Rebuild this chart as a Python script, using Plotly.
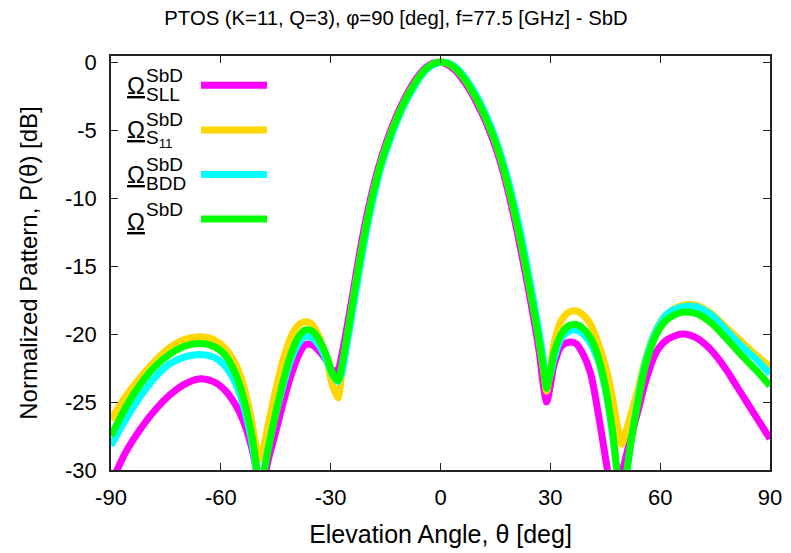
import plotly.graph_objects as go

# elevation angle grid (deg) shared by all four patterns
theta_deg = [-90, -86, -82, -78, -74, -70, -66, -62, -59, -56, -54, -52, -50.5, -49.5, -48.5, -47, -45, -43,
             -41, -39, -37, -35, -33, -31, -29.5, -28, -27, -26, -24, -22, -20, -18, -16, -14, -12, -10,
             -8, -6, -4, -2, 0, 2, 4, 6, 8, 10, 12, 14, 16, 18, 20, 22, 24, 26,
             27, 28, 29, 30, 31, 33, 35, 37, 39, 41, 43, 45, 46.5, 47.5, 48.5, 49.5, 50.5, 52,
             54, 56, 59, 62, 66, 70, 74, 78, 82, 86, 90]

# normalized pattern (dB)
p_sll = [-31.0, -28.7, -27.0, -25.6, -24.5, -23.7, -23.3, -23.5, -24.1, -25.2, -26.3, -27.9, -29.7, -31.6, -31.0, -29.2, -27.2, -25.1,
         -23.2, -21.7, -20.8, -20.8, -21.3, -22.0, -22.7, -22.6, -21.6, -20.2, -17.1, -13.9, -11.1, -8.8, -6.9, -5.3, -3.95, -2.8,
         -1.8, -1.0, -0.4, -0.07, -0.02, -0.2, -0.6, -1.25, -2.05, -3.05, -4.15, -5.5, -7.05, -9.0, -11.3, -13.9, -16.7, -19.7,
         -21.4, -23.6, -25.0, -23.8, -22.3, -20.9, -20.6, -20.7, -21.5, -22.9, -25.7, -29.0, -31.5, -33.5, -32.0, -30.3, -29.2, -27.6,
         -25.6, -23.5, -21.3, -20.4, -20.0, -20.3, -21.2, -22.6, -24.3, -26.0, -27.7]
p_s11 = [-26.3, -24.6, -23.2, -22.0, -21.0, -20.4, -20.2, -20.4, -21.0, -22.2, -23.6, -25.8, -28.0, -29.2, -28.5, -26.6, -24.1, -21.9,
         -20.3, -19.4, -19.1, -19.3, -20.3, -22.0, -23.8, -24.7, -23.0, -21.1, -17.7, -14.5, -11.6, -9.2, -7.2, -5.6, -4.2, -3.0,
         -2.0, -1.15, -0.5, -0.13, 0.0, -0.1, -0.45, -1.05, -1.85, -2.8, -3.9, -5.2, -6.7, -8.6, -10.8, -13.3, -16.1, -19.0,
         -20.6, -22.4, -24.2, -22.6, -20.7, -19.0, -18.4, -18.3, -18.6, -19.3, -20.6, -22.3, -24.0, -25.5, -27.0, -28.1, -27.3, -25.9,
         -24.0, -21.8, -19.6, -18.5, -17.9, -17.9, -18.5, -19.5, -20.5, -21.5, -22.4]
p_bdd = [-28.2, -26.3, -24.6, -23.2, -22.2, -21.7, -21.5, -21.7, -22.3, -23.6, -25.1, -27.3, -29.6, -31.5, -30.4, -28.3, -25.9, -23.8,
         -22.0, -20.8, -20.2, -20.3, -20.9, -22.0, -23.0, -23.5, -22.9, -21.5, -18.3, -15.1, -12.1, -9.6, -7.5, -5.9, -4.45, -3.2,
         -2.2, -1.3, -0.6, -0.2, -0.02, -0.05, -0.35, -0.9, -1.65, -2.55, -3.65, -4.9, -6.4, -8.2, -10.3, -12.7, -15.5, -18.4,
         -20.0, -21.7, -23.5, -23.0, -21.8, -20.3, -19.8, -19.7, -20.0, -20.7, -21.9, -24.0, -26.4, -28.5, -30.9, -33.0, -31.0, -28.0,
         -24.7, -22.0, -19.7, -18.5, -18.0, -18.0, -18.6, -19.7, -20.8, -21.8, -22.9]
p_sbd = [-27.5, -25.4, -23.7, -22.4, -21.5, -20.9, -20.7, -20.9, -21.5, -22.9, -24.5, -26.8, -29.2, -31.5, -30.6, -28.4, -25.8, -23.5,
         -21.6, -20.3, -19.7, -19.8, -20.5, -21.7, -22.9, -23.4, -22.4, -20.9, -17.7, -14.5, -11.6, -9.2, -7.2, -5.6, -4.2, -3.0,
         -2.0, -1.15, -0.5, -0.13, 0.0, -0.1, -0.45, -1.05, -1.85, -2.8, -3.9, -5.2, -6.7, -8.6, -10.8, -13.3, -16.1, -19.0,
         -20.6, -22.3, -24.0, -22.9, -21.4, -20.0, -19.4, -19.3, -19.6, -20.3, -21.6, -23.8, -26.2, -28.3, -30.8, -33.0, -30.8, -28.0,
         -24.9, -22.3, -20.0, -18.9, -18.4, -18.5, -19.2, -20.3, -21.5, -22.6, -23.8]

series_subscripts = ['SLL', 'S<sub>11</sub>', 'BDD', '']
series_colors = ['#ff00ff', '#ffd700', '#00ffff', '#00ff00']
x_ticks = [-90, -60, -30, 0, 30, 60, 90]
x_tick_text = ['-90', '-60', '-30', '0', '30', '60', '90']
y_ticks = [0, -5, -10, -15, -20, -25, -30]
y_tick_text = ['0', '-5', '-10', '-15', '-20', '-25', '-30']

FONT = 'Liberation Sans, Arial, sans-serif'
# the page body adds an 8 px margin, so the figure is drawn 8 px smaller and offset
W, H = 783, 545
M = dict(l=103, r=21, t=48, b=83)
plot_w = W - M['l'] - M['r']
plot_h = H - M['t'] - M['b']

fig = go.Figure()
for values, sub, color in zip([p_sll, p_s11, p_bdd, p_sbd], series_subscripts, series_colors):
	fig.add_trace(go.Scatter(
		x = theta_deg,
		y = values,
		mode = 'lines',
		line = dict(color=color, width=7, shape='spline', smoothing=0.8),
		name = f'SbD {sub}',
		showlegend = False,
	))

# gnuplot-like key: label on the left, line sample on the right
for i, (sub, color) in enumerate(zip(series_subscripts, series_colors)):
	y_px = 85.3 + 44.6*i - 56
	yc = 1 - y_px/plot_h
	fig.add_annotation(x=25/plot_w, y=yc - (2 if i == 3 else 0)/plot_h, xref='paper', yref='paper', text='<u>Ω</u>',
		showarrow=False, xanchor='center', yanchor='middle', font=dict(family=FONT, size=24, color='black'))
	fig.add_annotation(x=33/plot_w, y=yc + 10/plot_h, xref='paper', yref='paper', text='SbD',
		showarrow=False, xanchor='left', yanchor='middle', font=dict(family=FONT, size=19, color='black'))
	if sub:
		fig.add_annotation(x=33/plot_w, y=yc - 9/plot_h, xref='paper', yref='paper', text=sub,
			showarrow=False, xanchor='left', yanchor='middle', font=dict(family=FONT, size=19, color='black'))
	fig.add_shape(type='line', xref='paper', yref='paper', x0=90/plot_w, x1=156/plot_w, y0=yc, y1=yc,
		line=dict(color=color, width=7))

axis_common = dict(
	showline = True,
	linecolor = '#222',
	linewidth = 1.5,
	mirror = 'ticks',
	ticks = 'inside',
	ticklen = 7,
	tickcolor = '#222',
	showgrid = False,
	zeroline = False,
	automargin = False,
	tickfont = dict(family=FONT, size=22, color='black'),
)
fig.update_xaxes(
	range = [-90, 90],
	tickvals = x_ticks,
	ticktext = x_tick_text,
	ticklabelstandoff = 7,
	title = dict(text='Elevation Angle, θ [deg]', font=dict(family=FONT, size=25, color='black'), standoff=16),
	**axis_common,
)
fig.update_yaxes(
	range = [-30, 0.45],
	tickvals = y_ticks,
	ticktext = y_tick_text,
	ticklabelstandoff = 8,
	title = dict(text='Normalized Pattern, P(θ) [dB]', font=dict(family=FONT, size=24, color='black'), standoff=21),
	**axis_common,
)
fig.update_layout(
	width = W,
	height = H,
	margin = M,
	plot_bgcolor = 'white',
	paper_bgcolor = 'white',
	title = dict(
		text = 'PTOS (K=11, Q=3), φ=90 [deg], f=77.5 [GHz] - SbD',
		x = 388/W, xref = 'container', xanchor = 'center',
		y = 1 - 10/H, yref = 'container', yanchor = 'middle',
		font = dict(family=FONT, size=20.3, color='black'),
	),
)
fig.write_html('out.html')
